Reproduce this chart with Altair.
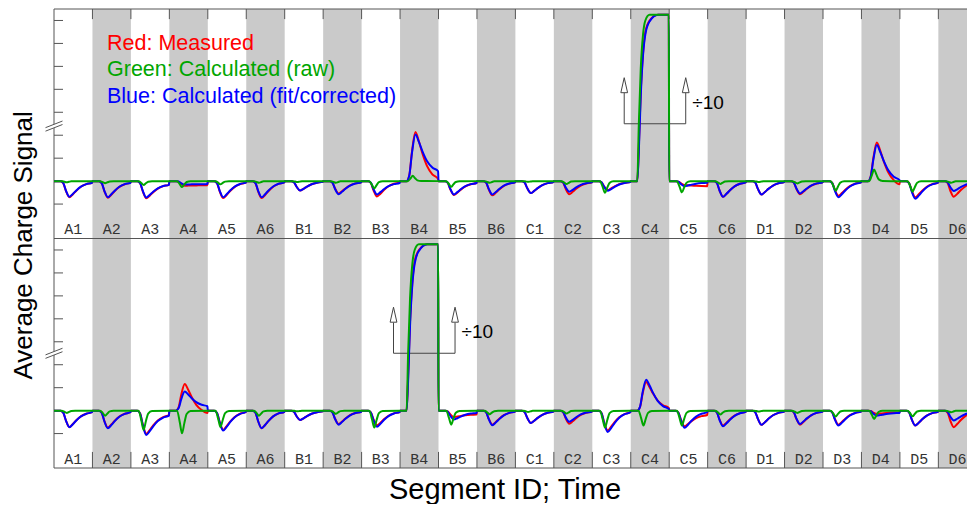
import altair as alt
import pandas as pd

segments = ["A1", "A2", "A3", "A4", "A5", "A6", "B1", "B2", "B3", "B4", "B5", "B6",
            "C1", "C2", "C3", "C4", "C5", "C6", "D1", "D2", "D3", "D4", "D5", "D6"]

# Extreme excursion of each pulse, in tick units (+ up, - down). None = scaled (÷10) plateau.
top_red = [-0.70, -0.72, -0.75, -0.20, -0.74, -0.74, -0.41, -0.54, -0.67, 2.14, -0.61, -0.62,
           -0.52, -0.57, -0.39, None, -0.17, -0.68, -0.58, -0.57, -0.64, 1.68, -0.70, -0.68]
top_red_tail = [-0.07, -0.07, -0.16, -0.18, -0.06, -0.05, -0.03, -0.05, -0.05, 0.09, -0.08, -0.05,
                -0.04, -0.05, -0.04, None, -0.22, -0.05, -0.04, -0.05, -0.05, -0.14, -0.07, -0.06]
top_blue = [-0.68, -0.70, -0.71, -0.15, -0.70, -0.70, -0.41, -0.57, -0.58, 2.03, -0.58, -0.58,
            -0.52, -0.46, -0.42, None, -0.22, -0.68, -0.58, -0.54, -0.70, 1.57, -0.77, -0.43]
top_blue_tail = [-0.07, -0.07, -0.16, -0.13, -0.06, -0.05, -0.03, -0.05, -0.08, 0.43, -0.08, -0.05,
                 -0.04, -0.05, -0.04, None, -0.07, -0.05, -0.04, -0.05, -0.05, 0.04, -0.07, -0.06]
top_green = [-0.05, -0.09, -0.17, -0.26, -0.14, -0.07, -0.04, -0.07, -0.32, 0.23, -0.25, -0.07,
             -0.03, -0.13, -0.51, None, -0.49, -0.12, -0.04, -0.10, -0.42, 0.51, -0.46, -0.07]

bot_red = [-0.71, -0.74, -1.01, 1.16, -0.83, -0.77, -0.41, -0.58, -0.64, None, -0.28, -0.61,
           -0.54, -0.57, -0.86, 1.25, -0.68, -0.65, -0.62, -0.61, -0.61, -0.14, -0.65, -0.72]
bot_red_tail = [-0.07, -0.07, -0.20, -0.10, -0.06, -0.05, -0.03, -0.05, -0.06, None, -0.17, -0.04,
                -0.04, -0.04, -0.07, 0.12, -0.19, -0.05, -0.04, -0.04, -0.04, -0.08, -0.05, -0.05]
bot_blue = [-0.72, -0.77, -1.06, 0.83, -0.87, -0.77, -0.41, -0.61, -0.70, None, -0.39, -0.64,
            -0.54, -0.49, -0.93, 1.35, -0.75, -0.68, -0.62, -0.58, -0.65, -0.22, -0.65, -0.43]
bot_blue_tail = [-0.07, -0.07, -0.22, 0.19, -0.06, -0.05, -0.03, -0.05, -0.06, None, -0.10, -0.04,
                 -0.04, -0.04, -0.07, 0.07, -0.07, -0.05, -0.04, -0.04, -0.04, -0.10, -0.05, -0.05]
bot_green = [-0.10, -0.22, -0.84, -0.99, -0.72, -0.22, -0.03, -0.14, -0.74, None, -0.61, -0.16,
             -0.06, -0.13, -0.74, -0.65, -0.65, -0.17, -0.04, -0.10, -0.26, -0.36, -0.25, -0.07]

# Scaled (÷10) plateau pulses (upper C4, lower B4)
plateau_offsets = [0.0, 0.17, 0.21, 0.26, 0.32, 0.38, 0.49, 0.71, 0.99]
plateau_red = [0, 0, 1.5, 3.9, 5.6, 6.5, 7.0, 7.25, 7.25]
plateau_green = [0, 0, 2.5, 4.9, 6.4, 7.0, 7.25, 7.25, 7.25]
plateau_blue = [0, 0, 1.3, 3.7, 5.5, 6.4, 6.96, 7.25, 7.25]

# pulse profile within a segment (fraction of the extreme)
rb_offsets = [0.0, 0.17, 0.24, 0.31, 0.40, 0.49, 0.58, 0.70, 0.84, 0.99]
rb_shape = [0, 0, 0.12, 0.6, 1, 0.8, 0.55, 0.28, 0.1, 0]
RB_MIN = 4
g_offsets = [0.0, 0.2, 0.27, 0.33, 0.39, 0.45, 0.55, 0.99]
g_shape = [0, 0, 0.5, 1, 0.55, 0.15, 0.02, 0]

TOP = 10.0
PLOT_W = 913
SEG_PX = 38.45
XMAX = PLOT_W / SEG_PX
YMIN, YMAX = -2.5, 17.5


def px(p):
    """page-x pixel (plot starts at 54) -> segment units"""
    return (p - 54) / SEG_PX


rows = []


def add_curve(panel, series, ext, tail, plateau):
    base = TOP if panel == "top" else 0.0
    for i in range(len(segments)):
        if ext[i] is None:
            for o, v in zip(plateau_offsets, plateau):
                rows.append(dict(x=i + o, y=base + v, series=series, panel=panel))
            continue
        if series == "green":
            for o, f in zip(g_offsets, g_shape):
                rows.append(dict(x=i + o, y=base + ext[i] * f, series=series, panel=panel))
        else:
            tl = tail[i]
            for k, (o, f) in enumerate(zip(rb_offsets, rb_shape)):
                v = ext[i] * f if k <= RB_MIN else tl + (ext[i] - tl) * f
                rows.append(dict(x=i + o, y=base + v, series=series, panel=panel))
    rows.append(dict(x=len(segments), y=base, series=series, panel=panel))


add_curve("top", "red", top_red, top_red_tail, plateau_red)
add_curve("top", "blue", top_blue, top_blue_tail, plateau_blue)
add_curve("top", "green", top_green, None, plateau_green)
add_curve("bot", "red", bot_red, bot_red_tail, plateau_red)
add_curve("bot", "blue", bot_blue, bot_blue_tail, plateau_blue)
add_curve("bot", "green", bot_green, None, plateau_green)
curves = pd.DataFrame(rows)

xs = alt.Scale(domain=[0, XMAX], nice=False, zero=False)
ys = alt.Scale(domain=[YMIN, YMAX], nice=False, zero=False)
X = lambda f="x": alt.X(f"{f}:Q", scale=xs, axis=None)
Y = lambda f="y": alt.Y(f"{f}:Q", scale=ys, axis=None)

bands = pd.DataFrame([dict(x=i, x2=i + 1, y=YMIN, y2=YMAX) for i in range(1, len(segments), 2)])
band_layer = alt.Chart(bands).mark_rect(color="#cacaca", clip=True).encode(
    x=X(), x2="x2:Q", y=Y(), y2="y2:Q")

# frame lines
hlines = pd.DataFrame(dict(y=[YMAX, 7.5, YMIN], x=[0, 0, 0], x2=[XMAX, XMAX, XMAX]))
hline_layer = alt.Chart(hlines).mark_rule(color="#555555", strokeWidth=1).encode(
    x=X(), x2="x2:Q", y=Y())
vline_layer = alt.Chart(pd.DataFrame(dict(x=[0], y=[YMIN], y2=[YMAX]))).mark_rule(
    color="#555555", strokeWidth=1).encode(x=X(), y=Y(), y2="y2:Q")

# y ticks (inward)
tick_vals = list(range(-1, 8)) + [TOP + v for v in range(-1, 8)]
ytick_layer = alt.Chart(pd.DataFrame(dict(y=tick_vals))).mark_rule(
    color="#555555", strokeWidth=1).encode(x=alt.value(0), x2=alt.value(9), y=Y())

# segment boundary ticks
bt = []
for i in range(1, len(segments)):
    bt.append(dict(x=i, y=YMAX, y2=YMAX - 0.44))
    bt.append(dict(x=i, y=YMIN, y2=YMIN + 0.7))
btick_layer = alt.Chart(pd.DataFrame(bt)).mark_rule(color="#555555", strokeWidth=1, clip=True).encode(
    x=X(), y=Y(), y2="y2:Q")

# axis break marks
brk = pd.DataFrame(dict(x=[0, 0], y=[TOP + 2.4, 2.5]))
brk_fill = alt.Chart(brk).mark_point(
    shape="M -1 0.19 L 1 -0.59 L 1 -0.18 L -1 0.6 Z", size=289, filled=True,
    fill="white", strokeWidth=0, opacity=1).encode(x=X(), y=Y())
brk_line = alt.Chart(brk).mark_point(
    shape="M -1 0.19 L 1 -0.59 M -1 0.6 L 1 -0.18", size=289, filled=False,
    stroke="#555555", strokeWidth=1, opacity=1).encode(x=X(), y=Y())

# segment labels
labels = pd.DataFrame([dict(x=i + 0.5, y=b - 2.1, t=s) for b in (TOP, 0.0) for i, s in enumerate(segments)])
label_layer = alt.Chart(labels).mark_text(
    font="Liberation Mono", fontSize=15, color="#333333", baseline="middle").encode(
    x=X(), y=Y(), text="t:N")

# curves
colors = {"red": "#ff0000", "blue": "#0000ff", "green": "#00a600"}
curve_layers = [
    alt.Chart(curves).transform_filter(alt.datum.series == s).mark_line(
        interpolate="monotone", strokeWidth=2, color=colors[s], clip=True).encode(
        x=X(), y=Y(), detail="panel:N")
    for s in ["red", "blue", "green"]
]

# ÷10 brackets
plateau_segments = {"top": segments.index("C4"), "bot": segments.index("B4")}
br_rows, arr_rows, div_rows = [], [], []
for p, s in plateau_segments.items():
    b = TOP if p == "top" else 0.0
    br_rows.append(dict(x=s - 0.17, x2=s + 1.43, y=b + 2.5, y2=b + 2.5))
    for xx in (s - 0.17, s + 1.43):
        br_rows.append(dict(x=xx, x2=xx, y=b + 2.5, y2=b + 3.84))
        arr_rows.append(dict(x=xx, y=b + 4.18))
    div_rows.append(dict(x=s + 1.6, y=b + 3.42, t="÷10"))
bracket_layer = alt.Chart(pd.DataFrame(br_rows)).mark_rule(color="#444444", strokeWidth=1).encode(
    x=X(), x2="x2:Q", y=Y(), y2="y2:Q")
arrow_layer = alt.Chart(pd.DataFrame(arr_rows)).mark_point(
    shape="M -0.45 1 L 0 -1 L 0.45 1 Z", size=225, filled=True, fill="white",
    stroke="#444444", strokeWidth=1, opacity=1).encode(x=X(), y=Y())
div_layer = alt.Chart(pd.DataFrame(div_rows)).mark_text(
    font="Liberation Sans", fontSize=19, align="left", baseline="middle", color="black").encode(
    x=X(), y=Y(), text="t:N")

# legend text
legend_text = ["Red: Measured", "Green: Calculated (raw)", "Blue: Calculated (fit/corrected)"]
legend_color = ["#ff0000", "#00a600", "#0000ff"]
leg = pd.DataFrame(dict(x=[px(107)] * 3, y=[TOP + 5.96, TOP + 4.83, TOP + 3.65], t=legend_text, c=legend_color))
legend_layer = alt.Chart(leg).mark_text(
    font="Liberation Sans", fontSize=21.5, align="left", baseline="middle").encode(
    x=X(), y=Y(), text="t:N", color=alt.Color("c:N", scale=None))

# axis titles
ytitle = alt.Chart(pd.DataFrame(dict(x=[px(24)], y=[7.2], t=["Average Charge Signal"]))).mark_text(
    font="Liberation Sans", fontSize=26, angle=270, align="center", baseline="middle", color="black").encode(
    x=X(), y=Y(), text="t:N")
xtitle = alt.Chart(pd.DataFrame(dict(x=[px(505)], y=[-3.46], t=["Segment ID; Time"]))).mark_text(
    font="Liberation Sans", fontSize=29, align="center", baseline="middle", color="black").encode(
    x=X(), y=Y(), text="t:N")

chart = alt.layer(
    band_layer, btick_layer, hline_layer, vline_layer, ytick_layer, label_layer,
    bracket_layer, arrow_layer, div_layer, *curve_layers, brk_fill, brk_line,
    legend_layer, ytitle, xtitle,
).properties(
    width=PLOT_W, height=459,
    autosize=alt.AutoSizeParams(type="none"),
    padding={"left": 46, "top": 1, "right": 0, "bottom": 36},
).configure_view(stroke=None)

chart.save("out.html", embed_options={"renderer": "svg", "actions": False})
